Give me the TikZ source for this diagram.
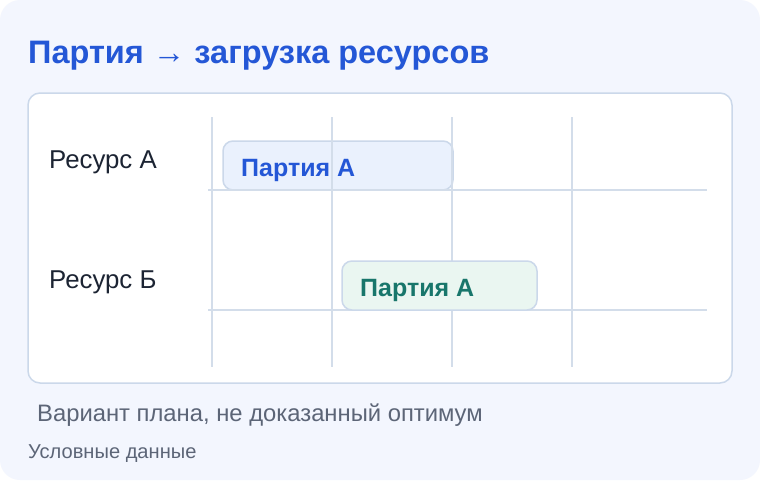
\documentclass[tikz,border=0pt]{standalone}
\usepackage{fontspec}
\setmainfont{Liberation Sans}
\definecolor{pagebg}{HTML}{F3F6FE}
\definecolor{panelborder}{HTML}{CBD8EA}
\definecolor{gridline}{HTML}{D3DDEA}
\definecolor{titleblue}{HTML}{2457D6}
\definecolor{teal}{HTML}{18766B}
\definecolor{darktext}{HTML}{1C2433}
\definecolor{greytext}{HTML}{5C6577}
\definecolor{barAfill}{HTML}{EAF1FD}
\definecolor{barBfill}{HTML}{EAF6F1}
\tikzset{
  gridrule/.style={draw=gridline, line width=1.5pt},
  barbox/.style={draw=panelborder, line width=1.5pt, rounded corners=10pt, inner sep=0pt},
  bartext/.style={anchor=base west, inner sep=0pt, font=\fontsize{25}{30}\selectfont\bfseries},
  rowlabel/.style={anchor=base west, inner sep=0pt, text=darktext, font=\fontsize{25.8}{30}\selectfont},
}
\begin{document}
\begin{tikzpicture}[x=1pt, y=-1pt]
\useasboundingbox (0,0) rectangle (760,480);
\fill[white] (0,0) rectangle (760,480);
\fill[pagebg, rounded corners=20pt] (0,0) rectangle (760,480);
\node[anchor=base west, inner sep=0pt, text=titleblue, font=\fontsize{32.5}{38}\selectfont\bfseries] (title) at (28,63) {Партия → загрузка ресурсов};
\draw[panelborder, fill=white, line width=1.5pt, rounded corners=12pt] (28,93) rectangle (732,383);
\node[rowlabel] (resA) at (49,168) {Ресурс А};
\node[rowlabel] (resB) at (49,288) {Ресурс Б};
% bar A
\node[barbox, fill=barAfill, minimum width=230pt, minimum height=49pt] (barA) at (338,165.5) {};
% grid
\foreach \gx/\nm in {212/ga,332/gb,452/gc,572/gd}{
  \coordinate (\nm top) at (\gx,117);
  \coordinate (\nm bot) at (\gx,367);
  \draw[gridrule] (\nm top) -- (\nm bot);
}
\coordinate (h1l) at (208,190); \coordinate (h1r) at (707,190);
\coordinate (h2l) at (208,310); \coordinate (h2r) at (707,310);
\draw[gridrule] (h1l) -- (h1r);
\draw[gridrule] (h2l) -- (h2r);
% bar B
\node[barbox, fill=barBfill, minimum width=195pt, minimum height=49pt] (barB) at (439.5,285.5) {};
\node[bartext, text=titleblue] (barAtext) at (241,176) {Партия А};
\node[bartext, text=teal] (barBtext) at (360,296) {Партия А};
\node[anchor=base west, inner sep=0pt, text=greytext, font=\fontsize{23.8}{28}\selectfont] (caption) at (37,421.5) {Вариант плана, не доказанный оптимум};
\node[anchor=base west, inner sep=0pt, text=greytext, font=\fontsize{20.1}{24}\selectfont] (source) at (28,458) {Условные данные};
\end{tikzpicture}
\end{document}
